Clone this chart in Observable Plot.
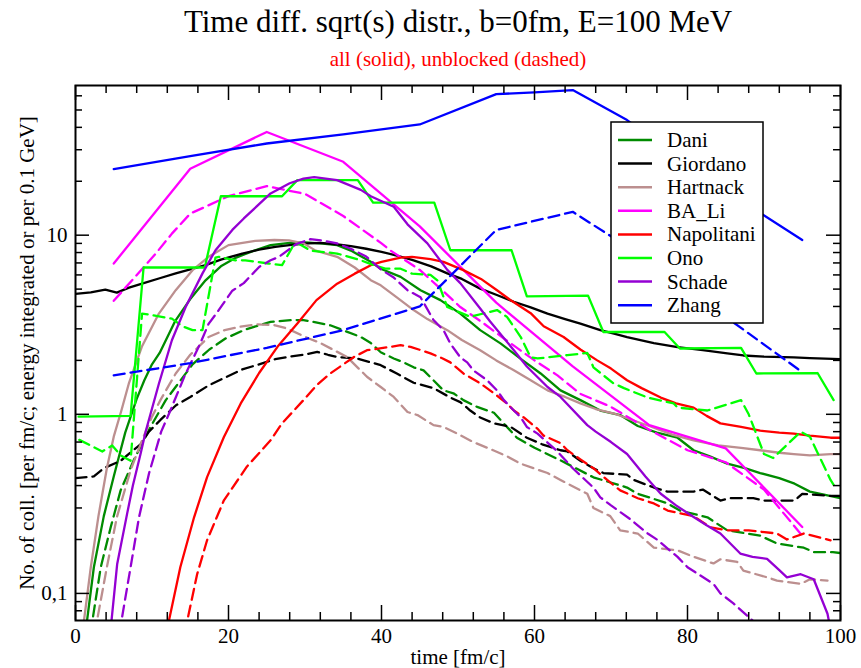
<!DOCTYPE html>
<html><head><meta charset="utf-8">
<script src="https://cdn.jsdelivr.net/npm/d3@7"></script>
<script src="https://cdn.jsdelivr.net/npm/@observablehq/plot@0.6"></script>
<style>html,body{margin:0;padding:0;background:#fff;} #chart{width:861px;height:668px;}</style>
</head><body><div id="chart"></div>
<script>
// ---------- data (time [fm/c], value) ----------
const seriesNames = ["Dani","Giordano","Hartnack","BA_Li","Napolitani","Ono","Schade","Zhang"];
const seriesColors = ["#008b00","#000000","#bc8f8f","#ff00ff","#ff0000","#00ff00","#9400d3","#0000ff"];

const daniSolid = [[1.2,0.06],[1.5,0.07],[2.4,0.14],[3.7,0.27],[5,0.45],[6.5,0.79],[8,1.22],[9,1.55],[10,1.9],[11,2.2],[13,3.3],[15,4.4],[17,5.6],[19,6.7],[21,7.5],[23,8.1],[25.5,8.8],[28,9.05],[30,9.1],[32,9.0],[34.2,8.8],[36,8.2],[38.6,7.1],[39.9,6.5],[42.5,5.85],[45.1,4.93],[47.7,4.34],[50.3,3.65],[52.9,2.95],[55.6,2.48],[58.2,2.04],[60.8,1.69],[63.4,1.36],[66,1.2],[68.6,1.05],[71.2,0.99],[73.5,0.86],[76,0.79],[78.7,0.74],[80.8,0.63],[83,0.58],[85.2,0.53],[87.5,0.5],[89.5,0.47],[92,0.44],[94,0.41],[96,0.37],[98,0.355],[100,0.34]];
const daniDashed = [[2,0.06],[2.2,0.07],[3.3,0.14],[4.6,0.234],[5.9,0.376],[7.6,0.553],[9.8,0.85],[11.8,1.2],[13.5,1.5],[15.3,1.9],[17.5,2.3],[19.6,2.65],[22,2.95],[24,3.14],[25.5,3.28],[28.3,3.36],[29.8,3.36],[33.3,3.14],[37.3,2.7],[38.6,2.5],[39.9,2.22],[41.6,2.05],[42.9,1.95],[44.2,1.83],[45.5,1.76],[48.1,1.36],[49.4,1.31],[50.7,1.2],[52.5,1.1],[54.7,1.02],[57.7,0.74],[60,0.65],[63.4,0.553],[67.7,0.445],[72.1,0.39],[73.5,0.36],[77.4,0.318],[79,0.29],[82.6,0.266],[85.2,0.225],[89.5,0.21],[91.7,0.19],[95.2,0.18],[96.5,0.17],[99,0.17],[100,0.168]];
const giordanoSolid = [[0,4.7],[2,4.8],[3.9,4.97],[5.4,4.78],[7,5.1],[8.7,5.36],[11,5.75],[13.1,6.12],[15,6.45],[17,6.8],[19,7.3],[21.8,7.9],[24,8.3],[26.1,8.6],[28.5,8.85],[30.5,9.0],[32,9.05],[34,8.9],[36,8.7],[38,8.4],[40,8.08],[42,7.7],[44.2,7.24],[46.5,6.7],[48.6,6.12],[50.5,5.7],[52.9,5.03],[55,4.65],[57.3,4.25],[59.5,3.95],[61.7,3.65],[64,3.4],[66,3.21],[68.6,2.95],[70.4,2.82],[72.1,2.7],[75.6,2.5],[78.7,2.37],[82,2.28],[85.2,2.19],[87.3,2.13],[90,2.1],[93.9,2.08],[96,2.06],[100,2.03]];
const giordanoDashed = [[0,0.44],[2.4,0.45],[3.7,0.5],[5.9,0.55],[8.5,0.68],[9.6,0.8],[11.1,0.93],[13.1,1.12],[15,1.25],[17.4,1.45],[19.5,1.6],[21.8,1.78],[24,1.9],[26.1,2.03],[28,2.1],[29.8,2.15],[31.6,2.23],[33,2.15],[34.2,2.09],[36.8,2.05],[39.9,1.88],[42,1.69],[44.2,1.5],[46.8,1.4],[49,1.24],[50.3,1.17],[51.6,1.05],[52.9,0.96],[54.7,0.89],[56.9,0.85],[59,0.74],[61,0.68],[63.4,0.63],[64.3,0.62],[66,0.55],[67.7,0.5],[69,0.47],[72.1,0.46],[73,0.43],[75.6,0.39],[77.4,0.37],[80.8,0.37],[82,0.38],[84.3,0.33],[85.6,0.34],[88.6,0.34],[90,0.33],[94,0.33],[95,0.36],[98.7,0.35],[100,0.35]];
const hartnackSolid = [[0.9,0.06],[1.1,0.07],[2,0.14],[3,0.27],[4.1,0.5],[5,0.75],[6,1.05],[7,1.5],[8.7,2.4],[10.9,3.65],[13.1,4.93],[15.3,6.38],[17.4,7.57],[20,8.8],[23.5,9.3],[26,9.4],[27.9,9.35],[29.8,9.0],[31.4,8.2],[34.2,7.57],[36.5,6.6],[38.6,5.61],[39.9,5.25],[42,4.5],[44.2,3.82],[46,3.4],[48.6,2.95],[50.5,2.6],[52.9,2.28],[55,2.0],[57.3,1.76],[59.5,1.55],[61.7,1.36],[64,1.25],[66,1.15],[68,1.07],[70.4,1.01],[72.1,0.95],[75,0.86],[78,0.77],[80.8,0.716],[84,0.67],[87,0.65],[89.5,0.63],[92,0.61],[93.9,0.6],[96,0.59],[98.7,0.6],[100,0.6]];
const hartnackDashed = [[2.5,0.06],[2.8,0.07],[4.1,0.14],[5.4,0.266],[7.2,0.487],[8.7,0.716],[10,0.97],[11.1,1.2],[13.1,1.69],[15,2.15],[17.4,2.7],[19.5,2.95],[21.8,3.1],[23.8,3.18],[26.1,3.14],[27.7,3.01],[30.5,2.65],[32,2.5],[35.5,2.09],[38.1,1.62],[39.9,1.42],[41.6,1.25],[43.4,1.03],[44.7,0.99],[46.8,0.87],[48.1,0.85],[49.9,0.78],[52,0.7],[54.6,0.63],[56.5,0.58],[58.2,0.53],[61.7,0.47],[63.4,0.43],[66.9,0.36],[67.7,0.3],[69.9,0.27],[71.2,0.225],[73.5,0.216],[75.6,0.18],[78.7,0.174],[80.8,0.16],[83.4,0.147],[84.3,0.155],[86.5,0.15],[87.3,0.134],[90.4,0.123],[91.7,0.118],[94.8,0.113],[96,0.12],[98.3,0.118]];
const baliSolid = [[5,6.95],[15,23.5],[25,37.7],[35,25.7],[45,11.2],[55,4.2],[65,1.85],[75,0.87],[85,0.645],[95,0.235]];
const baliDashed = [[5,4.3],[10.5,7.9],[12.6,10.2],[15,13.2],[20,16.5],[25,18.8],[30,17.0],[35,12.8],[40,9.0],[41.2,8.2],[45,6.4],[48,4.9],[50.3,3.97],[53,3.3],[56,2.65],[60,2.0],[63,1.65],[66,1.3],[70,1.1],[75,0.82],[80,0.63],[85,0.54],[90,0.38],[95,0.21]];
const napolitaniSolid = [[11.9,0.06],[12.2,0.07],[13.7,0.14],[15.5,0.266],[17.2,0.446],[19.4,0.747],[21.6,1.15],[24,1.7],[26.4,2.38],[29,3.21],[31.5,4.34],[34.2,5.36],[36.5,6.1],[38.6,6.8],[40,7.1],[42.5,7.5],[44,7.57],[46.4,7.35],[48.1,7.1],[50.7,6.38],[53,5.7],[55.1,4.93],[57,4.3],[59.5,3.67],[61.2,3.1],[63.8,2.7],[66,2.3],[68.2,2.0],[70,1.8],[72.1,1.55],[74,1.4],[76.5,1.24],[78.5,1.15],[80.8,1.09],[82.5,0.98],[84.3,0.89],[87,0.85],[89.5,0.81],[92,0.79],[93.9,0.78],[96,0.76],[98.7,0.74],[100,0.74]];
const napolitaniDashed = [[14.4,0.06],[14.6,0.07],[15.9,0.128],[17.2,0.198],[19.4,0.331],[22.4,0.51],[25.5,0.716],[27,0.89],[29.8,1.2],[31.5,1.45],[33.3,1.69],[36.4,2.09],[38.1,2.28],[40,2.34],[42.5,2.43],[43.8,2.38],[46.4,2.19],[48,2.05],[49,1.95],[50.7,1.69],[52.9,1.49],[54.7,1.31],[56.4,1.15],[57.3,1.05],[58.6,0.96],[60.4,0.83],[61.2,0.76],[63.4,0.69],[64.3,0.63],[66,0.56],[67.7,0.5],[69.5,0.43],[71.2,0.376],[73.5,0.34],[75.6,0.318],[77.4,0.29],[80.8,0.27],[83,0.234],[85.2,0.225],[88,0.225],[91.7,0.216],[93,0.2],[95.2,0.216],[98.7,0.198]];
const onoSolid = [[0.4,0.97],[7.2,0.98],[8.9,6.6],[16.9,6.6],[19,16.5],[27,16.5],[29,20.3],[36.9,20.3],[38.9,15.2],[46.9,15.2],[49,8.24],[57,8.24],[59,4.55],[67,4.6],[69,2.88],[77,2.88],[79,2.33],[87,2.35],[89,1.69],[97,1.7],[99.1,1.2]];
const onoDashed = [[0.5,0.72],[3.5,0.62],[4.8,0.67],[5.9,0.59],[7.2,0.55],[8.7,3.65],[10.2,3.57],[12.6,3.42],[14,3.1],[15.3,2.95],[16.6,2.95],[18.3,7.5],[18.7,7.57],[20.9,7.24],[22.2,7.24],[25.2,6.95],[27,6.8],[28.5,8.8],[29.2,8.96],[30.7,8.2],[34.2,7.9],[37.3,7.24],[39,6.8],[40.5,6.5],[42.5,6.5],[44,6.1],[46.4,6.0],[47.3,5.6],[48.6,3.97],[51.6,3.5],[55.1,3.82],[56.4,3.5],[58.2,2.7],[59.5,2.08],[60.4,2.05],[64.3,2.14],[66.9,2.2],[67.7,1.83],[70.3,1.49],[71.7,1.4],[74.8,1.24],[78.2,1.15],[78.7,1.09],[82.6,1.05],[87,1.2],[88,1.0],[90,0.6],[91.2,0.57],[94.8,0.8],[96,0.75],[98.7,0.43],[99.5,0.38]];
const schadeSolid = [[4.5,0.06],[4.7,0.07],[5.45,0.146],[6.75,0.279],[7.5,0.4],[8.5,0.6],[9.2,0.81],[10.9,1.48],[12.6,2.59],[14.4,3.97],[16.6,6.12],[18.3,8.24],[20.5,10.7],[22,12.4],[25.5,17.1],[28,19.5],[29.8,20.7],[31.2,21.1],[34.2,20.3],[37.3,17.9],[38.6,16.5],[41.6,14.4],[43.4,11.5],[46,9.0],[48.6,6.4],[50.3,5.4],[52.9,3.9],[54.2,3.3],[57.3,2.28],[59,1.85],[61.7,1.42],[63.4,1.25],[66.9,0.87],[68,0.8],[70,0.7],[72.1,0.6],[74.5,0.45],[76.5,0.36],[78.5,0.31],[80.8,0.267],[82.5,0.24],[84.3,0.216],[86.9,0.167],[88.5,0.16],[90.4,0.156],[92,0.135],[93,0.123],[94.8,0.128],[96.5,0.12],[98.3,0.077],[98.8,0.06]];
const schadeDashed = [[5.7,0.06],[6,0.07],[7.2,0.14],[8.3,0.266],[9.6,0.466],[11.2,0.8],[12.4,1.05],[14.3,1.65],[16.3,2.48],[17.4,3.2],[18.5,3.7],[20.5,4.9],[22,5.4],[24,6.65],[25.5,7.24],[26.6,7.57],[28.8,8.9],[30.7,9.5],[32.5,9.3],[34.2,9.0],[36,8.4],[38,7.6],[40,6.4],[41.6,5.8],[43.4,4.93],[45.1,4.5],[46.8,3.36],[48.1,2.95],[49,2.48],[50.3,2.08],[51.2,1.95],[52,1.76],[53.8,1.55],[55.1,1.36],[56,1.2],[57.3,1.05],[58.2,0.96],[59,0.85],[60.4,0.78],[63,0.62],[65,0.5],[67.7,0.39],[68.6,0.344],[70,0.31],[72.5,0.26],[74.8,0.216],[76,0.2],[78.7,0.16],[80,0.14],[83.4,0.113],[84.3,0.1],[86,0.088],[88.6,0.07],[89,0.066]];
const zhangSolid = [[5,23.4],[15,27.6],[25,32.5],[35,36.5],[45,41.5],[55,61.3],[60,62.7],[65,64.6],[72.1,43.9],[89.5,13.3],[95,9.4]];
const zhangDashed = [[5,1.65],[15,1.93],[25,2.35],[35,2.95],[45,4.0],[55,10.7],[65,13.5],[75,7.2],[85,3.5],[95,1.72]];

const solidSets = [daniSolid, giordanoSolid, hartnackSolid, baliSolid, napolitaniSolid, onoSolid, schadeSolid, zhangSolid];
const dashedSets = [daniDashed, giordanoDashed, hartnackDashed, baliDashed, napolitaniDashed, onoDashed, schadeDashed, zhangDashed];

// ---------- axes / text ----------
const xMajorTicks = [0, 20, 40, 60, 80, 100];
const xMinorTicks = [4,8,12,16,24,28,32,36,44,48,52,56,64,68,72,76,84,88,92,96];
const yMajorTicks = [0.1, 1, 10];
const yTickLabels = ["0,1", "1", "10"];
const yMinorTicks = [0.08,0.09,0.2,0.3,0.4,0.5,0.6,0.7,0.8,0.9,2,3,4,5,6,7,8,9,20,30,40,50,60];
const titleText = "Time diff. sqrt(s) distr., b=0fm, E=100 MeV";
const subtitleText = "all (solid), unblocked (dashed)";
const xLabelText = "time [fm/c]";
const yLabelText = "No. of coll. [per fm/c; energy integrated or per 0.1 GeV]";

const W = 861, H = 668, mT = 85, mR = 21, mB = 48, mL = 75;
const innerW = W - mL - mR, innerH = H - mT - mB;
const FONT = "Liberation Serif, Times New Roman, serif";

const lineMarks = [];
seriesNames.forEach((name, i) => {
  const solid = solidSets[i].map(([t, v]) => ({t, v}));
  const dashed = dashedSets[i].map(([t, v]) => ({t, v}));
  lineMarks.push(Plot.line(dashed, {x: "t", y: "v", stroke: seriesColors[i], strokeWidth: 2.3, strokeDasharray: "11,6", clip: true}));
  lineMarks.push(Plot.line(solid, {x: "t", y: "v", stroke: seriesColors[i], strokeWidth: 2.3, clip: true}));
});

const chart = Plot.plot({
  width: W, height: H,
  marginTop: mT, marginRight: mR, marginBottom: mB, marginLeft: mL,
  style: {fontFamily: FONT, background: "white", overflow: "visible"},
  x: {domain: [0, 100], axis: null},
  y: {type: "log", domain: [0.0706, 68.5], axis: null},
  marks: [
    ...lineMarks,
    // inward ticks
    Plot.ruleX(xMajorTicks, {x: d => d, insetTop: innerH - 15, stroke: "black", strokeWidth: 1.5}),
    Plot.ruleX(xMajorTicks, {x: d => d, insetBottom: innerH - 15, stroke: "black", strokeWidth: 1.5}),
    Plot.ruleX(xMinorTicks, {x: d => d, insetTop: innerH - 8, stroke: "black", strokeWidth: 1.5}),
    Plot.ruleX(xMinorTicks, {x: d => d, insetBottom: innerH - 8, stroke: "black", strokeWidth: 1.5}),
    Plot.ruleY(yMajorTicks, {y: d => d, insetRight: innerW - 14, stroke: "black", strokeWidth: 1.5}),
    Plot.ruleY(yMajorTicks, {y: d => d, insetLeft: innerW - 14, stroke: "black", strokeWidth: 1.5}),
    Plot.ruleY(yMinorTicks, {y: d => d, insetRight: innerW - 7, stroke: "black", strokeWidth: 1.5}),
    Plot.ruleY(yMinorTicks, {y: d => d, insetLeft: innerW - 7, stroke: "black", strokeWidth: 1.5}),
    Plot.frame({stroke: "black", strokeWidth: 2}),
    // tick labels
    Plot.text(xMajorTicks, {x: d => d, text: d => String(d), frameAnchor: "bottom", lineAnchor: "bottom", dy: 22, fontSize: 21, fill: "black"}),
    Plot.text(yMajorTicks, {y: d => d, text: (d, i) => yTickLabels[i], frameAnchor: "left", textAnchor: "end", dx: -8, fontSize: 21, fill: "black"}),
    // axis labels
    Plot.text([xLabelText], {frameAnchor: "bottom", lineAnchor: "bottom", dy: 43, fontSize: 21, fill: "black"}),
    Plot.text([yLabelText], {frameAnchor: "left", textAnchor: "middle", rotate: -90, lineAnchor: "bottom", dx: -42, fontSize: 21, fill: "black"}),
    // titles
    Plot.text([titleText], {frameAnchor: "top", textAnchor: "middle", lineAnchor: "bottom", dy: -54, fontSize: 31, fill: "black"}),
    Plot.text([subtitleText], {frameAnchor: "top", textAnchor: "middle", lineAnchor: "bottom", dy: -20, fontSize: 21, fill: "#ff0000"})
  ]
});
document.getElementById("chart").appendChild(chart);

// ---------- legend ----------
const svg = d3.select(chart);
const lg = svg.append("g").attr("font-family", FONT).attr("font-size", 21).attr("text-anchor", "start");
lg.append("rect").attr("x", 611).attr("y", 122).attr("width", 152).attr("height", 201)
  .attr("fill", "white").attr("stroke", "black").attr("stroke-width", 1.5);
seriesNames.forEach((name, i) => {
  const cy = 140 + i * 23.6;
  lg.append("line").attr("x1", 618).attr("x2", 652).attr("y1", cy).attr("y2", cy)
    .attr("stroke", seriesColors[i]).attr("stroke-width", 2.5);
  lg.append("text").attr("x", 667).attr("y", cy).attr("dy", "0.33em")
    .attr("text-anchor", "start").attr("fill", "black").text(name);
});
</script></body></html>
